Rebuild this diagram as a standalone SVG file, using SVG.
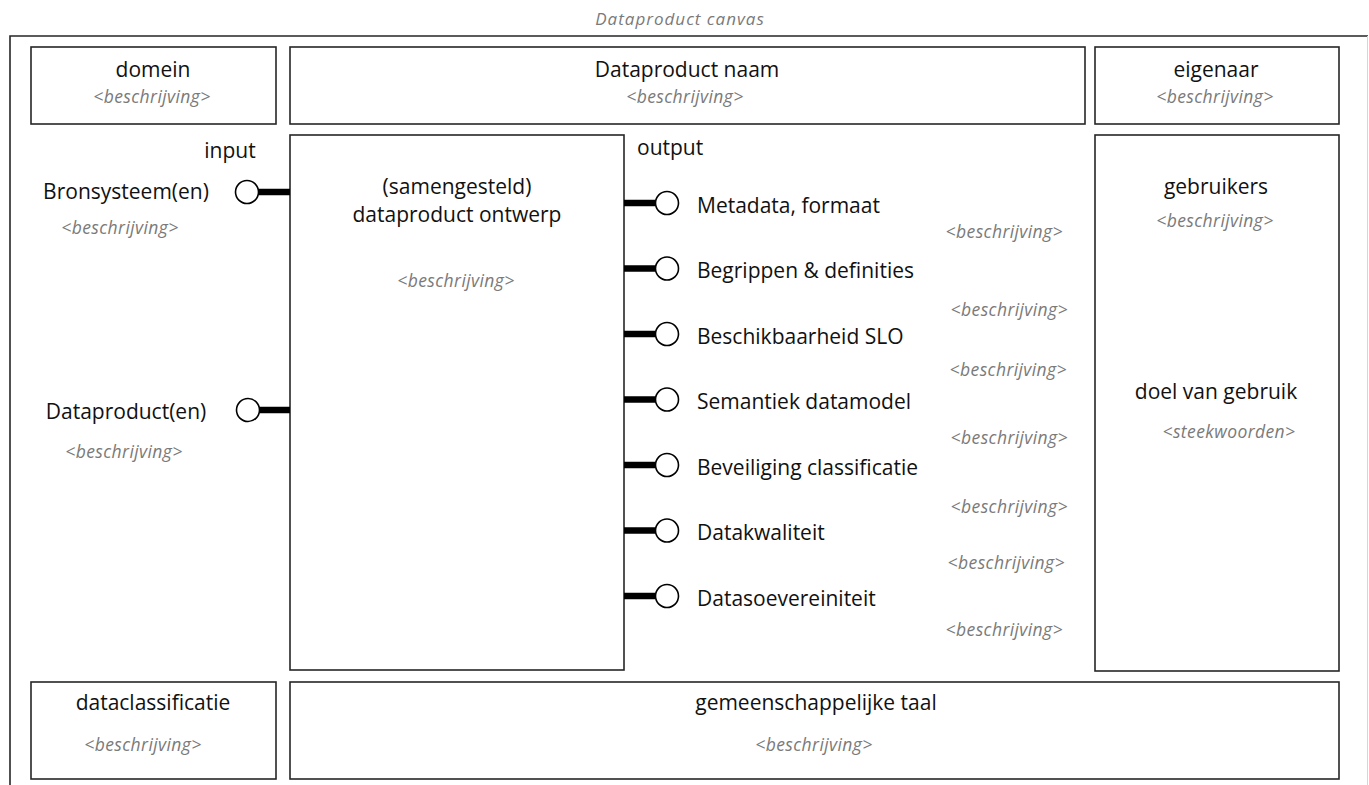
<svg xmlns="http://www.w3.org/2000/svg" width="1369" height="785" viewBox="0 0 1369 785">
<style>
.box{fill:#fff;stroke:#262626;stroke-width:1.6}
.t{font-family:"Open Sans","Liberation Sans",sans-serif;font-size:21px;fill:#111}
.d{font-family:"Open Sans","Liberation Sans",sans-serif;font-size:17.5px;font-style:italic;fill:#7a7a7a;letter-spacing:0.4px}
.c{text-anchor:middle}
.e{text-anchor:end}
.bar{stroke:#000;stroke-width:6.5}
.port{fill:#fff;stroke:#000;stroke-width:1.6}
</style>
<rect width="1369" height="785" fill="#fff"/>
<g id="canvas">
<text x="680" y="25" class="d c" style="font-size:17px;letter-spacing:1px">Dataproduct canvas</text>
<path d="M10 785 V36 H1368" fill="none" stroke="#262626" stroke-width="1.6"/>
<line x1="1367.5" y1="36" x2="1367.5" y2="785" stroke="#d6d6d6" stroke-width="1"/>
</g>
<g id="domein">
<rect class="box" x="31" y="47" width="245" height="77"/>
<text x="153" y="77" class="t c">domein</text>
<text x="152" y="103" class="d c">&lt;beschrijving&gt;</text>
</g>
<g id="dataproduct-naam">
<rect class="box" x="290" y="47" width="795" height="77"/>
<text x="687" y="77" class="t c">Dataproduct naam</text>
<text x="685" y="103" class="d c">&lt;beschrijving&gt;</text>
</g>
<g id="eigenaar">
<rect class="box" x="1095" y="47" width="244" height="77"/>
<text x="1216" y="77" class="t c">eigenaar</text>
<text x="1215" y="103" class="d c">&lt;beschrijving&gt;</text>
</g>
<g id="input">
<text x="230" y="158" class="t c">input</text>
</g>
<g id="bronsysteem">
<text x="126" y="199" class="t c">Bronsysteem(en)</text>
<text x="120" y="234" class="d c">&lt;beschrijving&gt;</text>
</g>
<g id="dataproducten">
<text x="126" y="419" class="t c">Dataproduct(en)</text>
<text x="124" y="458" class="d c">&lt;beschrijving&gt;</text>
</g>
<g id="ontwerp">
<rect class="box" x="290" y="135" width="334" height="535"/>
<text x="457" y="194" class="t c">(samengesteld)</text>
<text x="457" y="222" class="t c">dataproduct ontwerp</text>
<text x="456" y="287" class="d c">&lt;beschrijving&gt;</text>
</g>
<g id="output">
<text x="637" y="155" class="t">output</text>
</g>
<g id="out-metadata">
<text x="697" y="213" class="t">Metadata, formaat</text>
<text x="1063" y="238" class="d e">&lt;beschrijving&gt;</text>
</g>
<g id="out-begrippen">
<text x="697" y="278" class="t">Begrippen &amp; definities</text>
<text x="1068" y="316" class="d e">&lt;beschrijving&gt;</text>
</g>
<g id="out-beschikbaarheid">
<text x="697" y="344" class="t">Beschikbaarheid SLO</text>
<text x="1067" y="376" class="d e">&lt;beschrijving&gt;</text>
</g>
<g id="out-semantiek">
<text x="697" y="409" class="t">Semantiek datamodel</text>
<text x="1068" y="444" class="d e">&lt;beschrijving&gt;</text>
</g>
<g id="out-beveiliging">
<text x="697" y="475" class="t">Beveiliging classificatie</text>
<text x="1068" y="513" class="d e">&lt;beschrijving&gt;</text>
</g>
<g id="out-datakwaliteit">
<text x="697" y="540" class="t">Datakwaliteit</text>
<text x="1065" y="569" class="d e">&lt;beschrijving&gt;</text>
</g>
<g id="out-datasoevereiniteit">
<text x="697" y="606" class="t">Datasoevereiniteit</text>
<text x="1063" y="636" class="d e">&lt;beschrijving&gt;</text>
</g>
<g id="gebruikers">
<rect class="box" x="1095" y="135" width="244" height="536"/>
<text x="1216" y="194" class="t c">gebruikers</text>
<text x="1215" y="227" class="d c">&lt;beschrijving&gt;</text>
<text x="1216" y="399" class="t c">doel van gebruik</text>
<text x="1229" y="438" class="d c">&lt;steekwoorden&gt;</text>
</g>
<g id="dataclassificatie">
<rect class="box" x="31" y="682" width="245" height="97"/>
<text x="153" y="710" class="t c">dataclassificatie</text>
<text x="143" y="751" class="d c">&lt;beschrijving&gt;</text>
</g>
<g id="gemeenschappelijke-taal">
<rect class="box" x="290" y="682" width="1049" height="97"/>
<text x="816" y="710" class="t c">gemeenschappelijke taal</text>
<text x="814" y="751" class="d c">&lt;beschrijving&gt;</text>
</g>
<g id="connectors">
<line class="bar" x1="258" y1="192" x2="290" y2="192"/>
<circle class="port" cx="247" cy="192" r="11.5"/>
<line class="bar" x1="259" y1="410" x2="290" y2="410"/>
<circle class="port" cx="248" cy="410" r="11.5"/>
<line class="bar" x1="624" y1="203" x2="656" y2="203"/>
<circle class="port" cx="667" cy="203" r="11.5"/>
<line class="bar" x1="624" y1="268.5" x2="656" y2="268.5"/>
<circle class="port" cx="667" cy="268.5" r="11.5"/>
<line class="bar" x1="624" y1="334" x2="656" y2="334"/>
<circle class="port" cx="667" cy="334" r="11.5"/>
<line class="bar" x1="624" y1="399.5" x2="656" y2="399.5"/>
<circle class="port" cx="667" cy="399.5" r="11.5"/>
<line class="bar" x1="624" y1="465" x2="656" y2="465"/>
<circle class="port" cx="667" cy="465" r="11.5"/>
<line class="bar" x1="624" y1="530.5" x2="656" y2="530.5"/>
<circle class="port" cx="667" cy="530.5" r="11.5"/>
<line class="bar" x1="624" y1="596" x2="656" y2="596"/>
<circle class="port" cx="667" cy="596" r="11.5"/>
</g>
</svg>
